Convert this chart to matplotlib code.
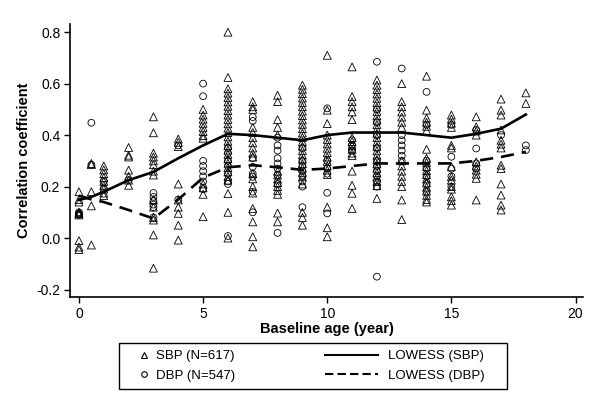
import matplotlib
matplotlib.use("Agg")
import matplotlib.pyplot as plt
from matplotlib.lines import Line2D
from matplotlib.patches import Rectangle

plt.rcParams['font.family'] = ['Liberation Sans', 'DejaVu Sans']

# baseline ages (years) of the study groups
ages = [0, 0.5, 1, 2, 3, 4, 5, 6, 7, 8, 9, 10, 11, 12, 13, 14, 15, 16, 17, 18]

# correlation coefficients per age, SBP
sbp_values = [
    [0.18, 0.15, 0.14, 0.10, 0.095, 0.09, -0.01, -0.035, -0.045],
    [0.29, 0.285, 0.18, 0.125, -0.027],
    [0.28, 0.265, 0.25, 0.235, 0.22, 0.205, 0.19, 0.175, 0.165],
    [0.352, 0.322, 0.315, 0.264, 0.24, 0.225, 0.205],
    [0.471, 0.409, 0.33, 0.315, 0.30, 0.285, 0.26, 0.245, 0.15, 0.12, 0.08, 0.07, 0.012, -0.117],
    [0.385, 0.372, 0.355, 0.21, 0.148, 0.12, 0.096, 0.05, -0.008],
    [0.50, 0.478, 0.462, 0.446, 0.43, 0.414, 0.398, 0.388, 0.21, 0.195, 0.17, 0.083],
    [0.80, 0.624, 0.58, 0.563, 0.546, 0.529, 0.512, 0.495, 0.478, 0.461, 0.444, 0.427, 0.41,
     0.393, 0.376, 0.359, 0.342, 0.325, 0.308, 0.291, 0.274, 0.257, 0.24, 0.225, 0.173, 0.10, 0.0],
    [0.53, 0.51, 0.50, 0.43, 0.41, 0.39, 0.37, 0.35, 0.33, 0.315, 0.25, 0.23, 0.2, 0.175, 0.115, 0.063, 0.005, -0.034],
    [0.555, 0.53, 0.46, 0.43, 0.40, 0.26, 0.245, 0.23, 0.215, 0.20, 0.185, 0.17, 0.097, 0.063],
    [0.594, 0.578, 0.561, 0.544, 0.527, 0.51, 0.493, 0.476, 0.459, 0.442, 0.425, 0.408, 0.391,
     0.374, 0.357, 0.34, 0.323, 0.306, 0.289, 0.272, 0.255, 0.238, 0.21, 0.10, 0.08, 0.05],
    [0.71, 0.497, 0.445, 0.40, 0.383, 0.366, 0.349, 0.332, 0.315, 0.298, 0.281, 0.264, 0.247,
     0.12, 0.04, 0.005],
    [0.665, 0.55, 0.53, 0.51, 0.49, 0.46, 0.39, 0.375, 0.36, 0.345, 0.33, 0.32, 0.26, 0.205, 0.174, 0.115],
    [0.614, 0.594, 0.577, 0.56, 0.543, 0.526, 0.509, 0.492, 0.475, 0.458, 0.441, 0.424, 0.407,
     0.39, 0.373, 0.356, 0.339, 0.322, 0.305, 0.288, 0.271, 0.254, 0.237, 0.22, 0.203, 0.154],
    [0.60, 0.53, 0.51, 0.49, 0.47, 0.45, 0.43, 0.30, 0.28, 0.26, 0.24, 0.22, 0.20, 0.148, 0.072],
    [0.629, 0.497, 0.466, 0.45, 0.434, 0.418, 0.345, 0.31, 0.294, 0.278, 0.262, 0.246, 0.23,
     0.214, 0.198, 0.182, 0.166, 0.15, 0.14],
    [0.478, 0.462, 0.446, 0.43, 0.36, 0.35, 0.277, 0.238, 0.225, 0.2, 0.19, 0.16, 0.145, 0.128],
    [0.471, 0.432, 0.416, 0.40, 0.296, 0.28, 0.264, 0.248, 0.232, 0.148],
    [0.54, 0.497, 0.478, 0.42, 0.38, 0.365, 0.35, 0.283, 0.27, 0.21, 0.167, 0.128, 0.109],
    [0.564, 0.523],
]

# correlation coefficients per age, DBP
dbp_values = [
    [0.10, 0.09, 0.095],
    [0.448, 0.285],
    [0.22, 0.19],
    [0.225],
    [0.175, 0.16, 0.145, 0.13, 0.12, 0.08],
    [0.36, 0.15],
    [0.60, 0.551, 0.30, 0.28, 0.26, 0.24, 0.22, 0.19],
    [0.35, 0.33, 0.30, 0.28, 0.25, 0.22, 0.21, 0.008],
    [0.47, 0.455, 0.31, 0.277, 0.25, 0.238, 0.18, 0.10],
    [0.39, 0.36, 0.34, 0.31, 0.29, 0.27, 0.245, 0.21, 0.02],
    [0.35, 0.30, 0.28, 0.26, 0.24, 0.22, 0.20, 0.12],
    [0.504, 0.30, 0.27, 0.25, 0.176, 0.096],
    [0.38, 0.36, 0.34],
    [0.685, 0.50, 0.45, 0.40, 0.35, 0.30, 0.28, 0.26, 0.24, 0.22, 0.20, -0.15],
    [0.659, 0.40, 0.38, 0.36, 0.34, 0.32, 0.30],
    [0.568, 0.44, 0.30, 0.27, 0.24, 0.21, 0.18],
    [0.44, 0.316, 0.27, 0.24, 0.20],
    [0.42, 0.348, 0.29, 0.27],
    [0.40],
    [0.36, 0.342],
]

# LOWESS smoothed curves
lowess_age = [0, 0.5, 1, 2, 3, 4, 5, 6, 7, 8, 9, 10, 11, 12, 13, 14, 15, 16, 17, 18]
lowess_sbp = [0.148, 0.16, 0.18, 0.225, 0.257, 0.31, 0.36, 0.405, 0.40, 0.39, 0.38, 0.40, 0.41,
              0.41, 0.41, 0.40, 0.39, 0.405, 0.425, 0.48]
lowess_dbp = [0.165, 0.15, 0.14, 0.109, 0.076, 0.15, 0.235, 0.275, 0.283, 0.275, 0.265, 0.27,
              0.28, 0.29, 0.29, 0.29, 0.29, 0.30, 0.315, 0.335]

sbp_x = [a for a, vals in zip(ages, sbp_values) for _ in vals]
sbp_y = [v for vals in sbp_values for v in vals]
dbp_x = [a for a, vals in zip(ages, dbp_values) for _ in vals]
dbp_y = [v for vals in dbp_values for v in vals]

fig = plt.figure(figsize=(6.01, 4.03), dpi=100)
ax = fig.add_axes([0.1165, 0.263, 0.8535, 0.677])

ax.scatter(sbp_x, sbp_y, marker='^', s=32, facecolors='none', edgecolors='black', linewidths=0.6)
ax.scatter(dbp_x, dbp_y, marker='o', s=24, facecolors='none', edgecolors='black', linewidths=0.6)
ax.plot(lowess_age, lowess_sbp, color='black', lw=1.9)
ax.plot(lowess_age, lowess_dbp, color='black', lw=1.9, dashes=(5, 3))

ax.set_xlim(-0.36, 20.3)
ax.set_ylim(-0.229, 0.831)
ax.set_xticks([0, 5, 10, 15, 20])
ax.set_yticks([-0.2, 0.0, 0.2, 0.4, 0.6, 0.8])
ax.set_yticklabels(['-0.2', '0.0', '0.2', '0.4', '0.6', '0.8'])
ax.tick_params(direction='out', length=4, width=1, labelsize=10, pad=3)
for side in ['top', 'right']:
    ax.spines[side].set_visible(False)
for side in ['left', 'bottom']:
    ax.spines[side].set_linewidth(1.2)

ax.set_xlabel('Baseline age (year)', fontsize=10.5, fontweight='bold', labelpad=1)
ax.set_ylabel('Correlation coefficient', fontsize=10.5, fontweight='bold', labelpad=4)

# legend: frame box plus two columns with different handle widths
fig.add_artist(Rectangle((0.198, 0.0347), 0.6456, 0.114, transform=fig.transFigure,
                         facecolor='white', edgecolor='black', lw=1.0))
marker_handles = [
    Line2D([], [], ls='none', marker='^', ms=4, mfc='none', mec='black', mew=0.8),
    Line2D([], [], ls='none', marker='o', ms=4, mfc='none', mec='black', mew=0.8),
]
line_handles = [
    Line2D([], [], color='black', lw=1.5),
    Line2D([], [], color='black', lw=1.5, dashes=(4, 2)),
]
common = dict(loc='upper left', fontsize=9.5, frameon=False, borderpad=0,
              borderaxespad=0, labelspacing=0.55)
leg1 = fig.legend(marker_handles, ['SBP (N=617)', 'DBP (N=547)'],
                  bbox_to_anchor=(0.228, 0.131), handlelength=1.0, handletextpad=0.4, **common)
leg2 = fig.legend(line_handles, ['LOWESS (SBP)', 'LOWESS (DBP)'],
                  bbox_to_anchor=(0.541, 0.131), handlelength=4.0, handletextpad=0.75, **common)

fig.savefig('out.png', dpi=100)
